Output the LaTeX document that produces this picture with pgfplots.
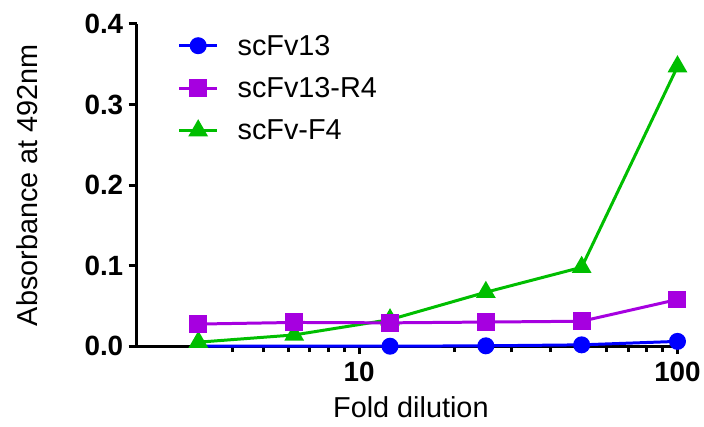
\documentclass[border=0pt]{standalone}
\usepackage{fontspec}
\setmainfont{Liberation Sans}
\usepackage{pgfplots}
\pgfplotsset{compat=1.18}
\definecolor{cblue}{RGB}{0,0,255}
\definecolor{cpurp}{RGB}{166,0,224}
\definecolor{cgreen}{RGB}{0,190,0}
\begin{document}
\begin{tikzpicture}
\begin{axis}[
  xmode=log, log basis x=10,
  scale only axis, width=542bp, height=323bp,
  xmin=2, xmax=100, ymin=0, ymax=0.4,
  clip=false,
  axis lines=left,
  axis line style={line width=3bp,-,black},
  xtick={10,100}, xticklabels={10,100},
  minor xtick={4,5,6,7,8,9,20,30,40,50,60,70,80,90},
  ytick={0,0.1,0.2,0.3,0.4}, yticklabels={0.0,0.1,0.2,0.3,0.4},
  tick align=outside,
  major tick length=8bp, minor tick length=6bp,
  every tick/.style={line width=3bp,black},
  /pgf/number format/assume math mode=true,
  tick label style={font=\fontsize{28}{32}\selectfont\bfseries},
  xticklabel style={yshift=-4bp},
  yticklabel style={xshift=-2bp},
  xlabel={Fold dilution}, ylabel={Absorbance at 492nm},
  every axis x label/.style={at={(axis description cs:0.507,-0.19)},anchor=center,font=\fontsize{29}{34}\selectfont},
  every axis y label/.style={at={(axis description cs:-0.203,0.5)},anchor=center,rotate=90,font=\fontsize{29}{34}\selectfont},
  legend style={at={(rel axis cs:0.07,0.979)}, anchor=north west, draw=none, fill=none,
    font=\fontsize{29}{33}\selectfont, row sep=17bp, cells={anchor=west}},
  legend image code/.code={\draw[#1,mark indices={2}] plot coordinates {(0bp,0bp) (19bp,0bp) (38bp,0bp)}; \path (55bp,0bp);},
  reverse legend,
]
\addplot[color=cgreen, line width=3bp, mark=triangle*, mark size=8.5bp, mark options={solid}]
  coordinates {(3.125,0.005) (6.25,0.014) (12.5,0.033) (25,0.067) (50,0.098) (100,0.347)};
\addlegendentry{scFv-F4}
\addplot[color=cpurp, line width=3bp, mark=square*, mark size=7.5bp, mark options={solid}]
  coordinates {(3.125,0.0275) (6.25,0.0295) (12.5,0.029) (25,0.030) (50,0.031) (100,0.058)};
\addlegendentry{scFv13-R4}
\addplot[color=cblue, line width=3bp, mark=*, mark size=7bp, mark indices={3,4,5,6}, mark options={solid}]
  coordinates {(3.125,0.0) (6.25,0.0) (12.5,0.0) (25,0.0005) (50,0.0017) (100,0.006)};
\addlegendentry{scFv13}
\end{axis}
\path ([xshift=-137bp,yshift=24bp]current axis.north west) rectangle ([xshift=25bp,yshift=-80bp]current axis.south east);
\end{tikzpicture}
\end{document}
